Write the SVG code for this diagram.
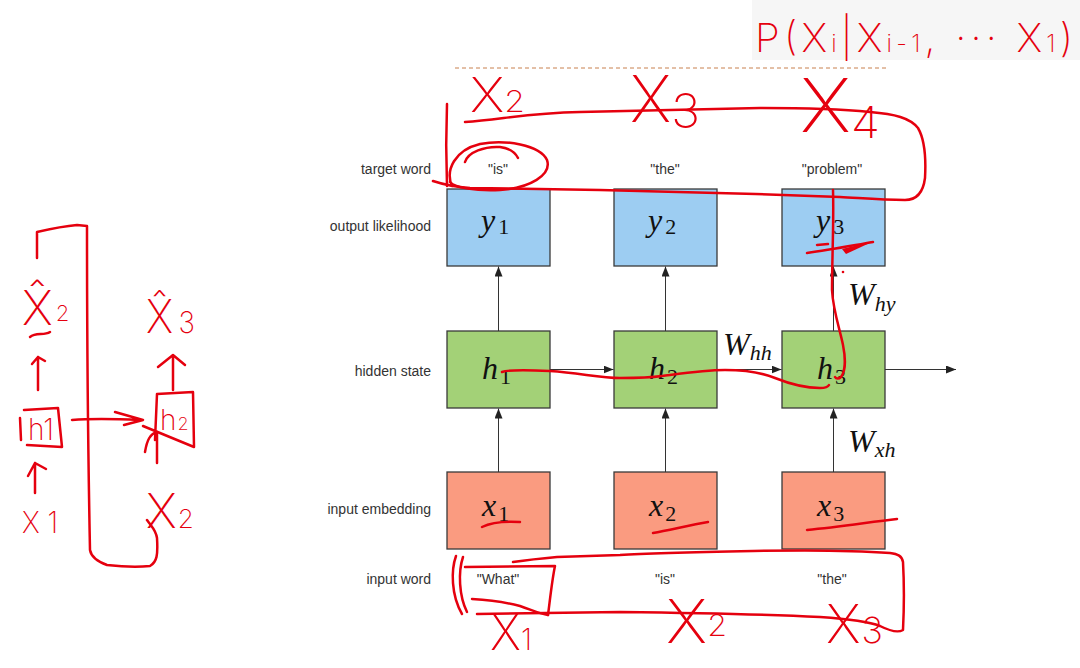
<svg xmlns="http://www.w3.org/2000/svg" width="1080" height="668" viewBox="0 0 1080 668">
<defs>
<marker id="ah" markerUnits="userSpaceOnUse" markerWidth="10" markerHeight="8" refX="10" refY="4" orient="auto">
<path d="M0,0 L10,4 L0,8 z" fill="#222"/>
</marker>
<style>
.lbl{font-family:"Liberation Sans",Arial,sans-serif;font-size:14px;fill:#333}
.rl{text-anchor:end}
.wd{text-anchor:middle}
.box{stroke:#3a3a3a;stroke-width:1.3}
.yb{fill:#9dcdf2}.hb{fill:#a3d177}.xb{fill:#fa9b80}
.m{font-family:"Liberation Serif","Times New Roman",serif;font-size:32px;font-style:italic;fill:#111}
.s{font-style:normal;font-size:22px}
.si{font-style:italic;font-size:22px}
.con{stroke:#333;stroke-width:1;fill:none;marker-end:url(#ah)}
.r{stroke:#e5000e;stroke-width:2.5;fill:none;stroke-linecap:round;stroke-linejoin:round}
.rt{font-family:Inter,Lato,"DejaVu Sans",sans-serif;font-weight:200;fill:#e5000e}
</style>
</defs>
<rect width="1080" height="668" fill="#ffffff"/>
<rect x="752" y="0" width="328" height="60" fill="#f6f6f6"/>

<g id="row-labels">
<text class="lbl rl" x="431" y="174">target word</text>
<text class="lbl rl" x="431" y="231">output likelihood</text>
<text class="lbl rl" x="431" y="376">hidden state</text>
<text class="lbl rl" x="431" y="514">input embedding</text>
<text class="lbl rl" x="431" y="584">input word</text>
</g>

<g id="target-words">
<text class="lbl wd" x="498" y="174">"is"</text>
<text class="lbl wd" x="665" y="174">"the"</text>
<text class="lbl wd" x="832" y="174">"problem"</text>
</g>
<g id="input-words">
<text class="lbl wd" x="498" y="584">"What"</text>
<text class="lbl wd" x="665" y="584">"is"</text>
<text class="lbl wd" x="832" y="584">"the"</text>
</g>

<g id="y1"><rect class="box yb" x="447" y="189" width="103" height="77"/><text class="m" x="481" y="231">y<tspan class="s" dx="3" dy="3">1</tspan></text></g>
<g id="y2"><rect class="box yb" x="614" y="189" width="103" height="77"/><text class="m" x="648" y="231">y<tspan class="s" dx="3" dy="3">2</tspan></text></g>
<g id="y3"><rect class="box yb" x="782" y="189" width="103" height="77"/><text class="m" x="816" y="231">y<tspan class="s" dx="3" dy="3">3</tspan></text></g>

<g id="h1"><rect class="box hb" x="447" y="331" width="103" height="77"/><text class="m" x="482" y="379">h<tspan class="s" dx="2" dy="5">1</tspan></text></g>
<g id="h2"><rect class="box hb" x="614" y="331" width="103" height="77"/><text class="m" x="649" y="379">h<tspan class="s" dx="2" dy="5">2</tspan></text></g>
<g id="h3"><rect class="box hb" x="782" y="331" width="103" height="77"/><text class="m" x="817" y="379">h<tspan class="s" dx="2" dy="5">3</tspan></text></g>

<g id="x1"><rect class="box xb" x="447" y="472" width="103" height="77"/><text class="m" x="482" y="516">x<tspan class="s" dx="2" dy="5">1</tspan></text></g>
<g id="x2"><rect class="box xb" x="614" y="472" width="103" height="77"/><text class="m" x="649" y="516">x<tspan class="s" dx="2" dy="5">2</tspan></text></g>
<g id="x3"><rect class="box xb" x="782" y="472" width="103" height="77"/><text class="m" x="817" y="516">x<tspan class="s" dx="2" dy="5">3</tspan></text></g>

<g id="connectors">
<line class="con" x1="498.5" y1="472" x2="498.5" y2="408.5"/>
<line class="con" x1="665.5" y1="472" x2="665.5" y2="408.5"/>
<line class="con" x1="833.5" y1="472" x2="833.5" y2="408.5"/>
<line class="con" x1="498.5" y1="331" x2="498.5" y2="266.5"/>
<line class="con" x1="665.5" y1="331" x2="665.5" y2="266.5"/>
<line class="con" x1="833.5" y1="331" x2="833.5" y2="266.5"/>
<line class="con" x1="550" y1="369.5" x2="613.5" y2="369.5"/>
<line class="con" x1="717" y1="369.5" x2="781.5" y2="369.5"/>
<line class="con" x1="885" y1="369.5" x2="956" y2="369.5"/>
</g>

<g id="weights">
<text class="m" x="723" y="355">W<tspan class="si" dy="5">hh</tspan></text>
<text class="m" x="848" y="305">W<tspan class="si" dy="6">hy</tspan></text>
<text class="m" x="848" y="452">W<tspan class="si" dy="5">xh</tspan></text>
</g>

<line x1="455" y1="68" x2="887" y2="68" stroke="#c8804f" stroke-width="1" stroke-dasharray="4 3"/>

<g id="annotations">
<path class="r" d="M465,122 C500,120 525,113 580,112 L760,108 C820,108 850,110 870,112 C895,114 910,118 918,128 C925,140 926,160 925,178 C923,194 915,200 905,200 C880,200 860,198 840,197 C760,194 660,191 600,190 L470,188 C455,187 445,185 433,181"/>
<path class="r" d="M447,104 C446,130 446,160 447,186"/>
<path class="r" d="M452,186 C445,170 455,150 480,144 C505,139 540,145 547,160 C552,175 530,188 500,190 C475,191 455,188 450,182"/>
<path class="r" d="M465,162 C468,152 485,146 500,147 C508,148 515,152 518,158"/>
<path class="r" d="M833,190 C834,220 832,260 832,290 C833,310 840,330 843,345 C846,360 845,372 841,377 C839,379 836,379 835,377"/>
<path class="r" d="M807,253 C830,250 850,246 873,242"/>
<path d="M842,249 L874,241 L846,254 z" fill="#e5000e"/>
<path class="r" d="M817,245 L828,244" stroke-width="1.5"/>
<circle cx="843" cy="272" r="1.3" fill="#e5000e"/>
<path class="r" d="M502,372 C510,369 530,370 550,371 C580,373 600,378 620,378 C640,378 655,377 662,376 C685,373 705,370 725,370 C745,370 760,372 775,378 C790,384 805,388 820,388 C825,388 828,387 829,385"/>
<path class="r" d="M482,527 C490,523 505,521 520,522"/>
<path class="r" d="M653,533 C670,530 690,525 708,522"/>
<path class="r" d="M807,530 C840,527 870,522 897,519"/>
<path class="r" d="M477,614 L620,612 C700,613 780,615 820,617 C850,619 870,622 880,626 C890,631 898,633 903,630 C904,610 904,580 903,562 C902,556 898,554 890,553 C850,550 800,550 753,551 C700,552 650,553 620,555 L557,557 C535,559 520,561 513,562"/>
<path class="r" d="M465,567 L555,566 C552,580 550,600 548,615"/>
<path class="r" d="M472,599 C490,600 505,602 520,606 C532,610 540,614 548,615"/>
<path class="r" d="M456,556 C451,570 451,595 462,614"/>
<path class="r" d="M463,557 C458,572 459,596 467,612"/>

<text class="rt" x="470" y="112" font-size="48" textLength="55" lengthAdjust="spacingAndGlyphs">X<tspan font-size="30">2</tspan></text>
<text class="rt" x="630" y="122" font-size="64" textLength="70" lengthAdjust="spacingAndGlyphs">X<tspan font-size="48" dy="6">3</tspan></text>
<text class="rt" x="800" y="132" font-size="74" textLength="80" lengthAdjust="spacingAndGlyphs">X<tspan font-size="44" dy="6">4</tspan></text>
<text class="rt" x="755" y="52" font-size="40" textLength="318" lengthAdjust="spacing">P(X<tspan font-size="24">i</tspan><tspan font-size="40">|X</tspan><tspan font-size="24">i-1</tspan><tspan font-size="40">, ··· X</tspan><tspan font-size="24">1</tspan><tspan font-size="40">)</tspan></text>

<text class="rt" x="490" y="650" font-size="50" textLength="42" lengthAdjust="spacingAndGlyphs">X<tspan font-size="30">1</tspan></text>
<text class="rt" x="666" y="643" font-size="60" textLength="61" lengthAdjust="spacingAndGlyphs">X<tspan font-size="30" dy="-7">2</tspan></text>
<text class="rt" x="826" y="643" font-size="54">X<tspan font-size="36" dx="1">3</tspan></text>

<path class="r" d="M37,258 L37,232 C50,229 65,226 77,225 L87,226 C87,320 88,450 90,550 C91,556 96,561 107,565 C125,567 140,567 150,566 C157,562 158,555 157,538 C156,530 152,527 147,520"/>
<text class="rt" x="22" y="325" font-size="48">X̂<tspan font-size="22" dx="3" dy="-4">2</tspan></text>
<path class="r" d="M30,337 C36,332 44,336 50,332" stroke-width="2"/>
<path class="r" d="M38,390 L38,357 M32,364 L38,357 L45,361"/>
<path class="r" d="M20,418 L21,440 M24,410 L58,408 L62,447 L27,445"/>
<text class="rt" x="28" y="440" font-size="30" textLength="26" lengthAdjust="spacingAndGlyphs">h1</text>
<path class="r" d="M35,493 L35,463 M28,476 L35,463 L46,469"/>
<text class="rt" x="22" y="533" font-size="30" textLength="36" lengthAdjust="spacingAndGlyphs">X 1</text>
<path class="r" d="M72,420 C95,418 120,419 140,420 M115,412 L143,420 L124,425"/>
<path class="r" d="M157,394 L193,392 L194,447 L143,426 M157,394 L155,440"/>
<text class="rt" x="160" y="430" font-size="28">h<tspan font-size="18" dx="1">2</tspan></text>
<path class="r" d="M157,463 L157,432 M145,452 C147,440 150,434 157,432"/>
<path class="r" d="M173,390 L173,357 M158,367 L173,355 L185,365"/>
<text class="rt" x="146" y="333" font-size="46" textLength="49" lengthAdjust="spacingAndGlyphs">X̂<tspan font-size="30" dx="6">3</tspan></text>
<text class="rt" x="146" y="528" font-size="48">X<tspan font-size="26" dx="1">2</tspan></text>
</g>
</svg>
